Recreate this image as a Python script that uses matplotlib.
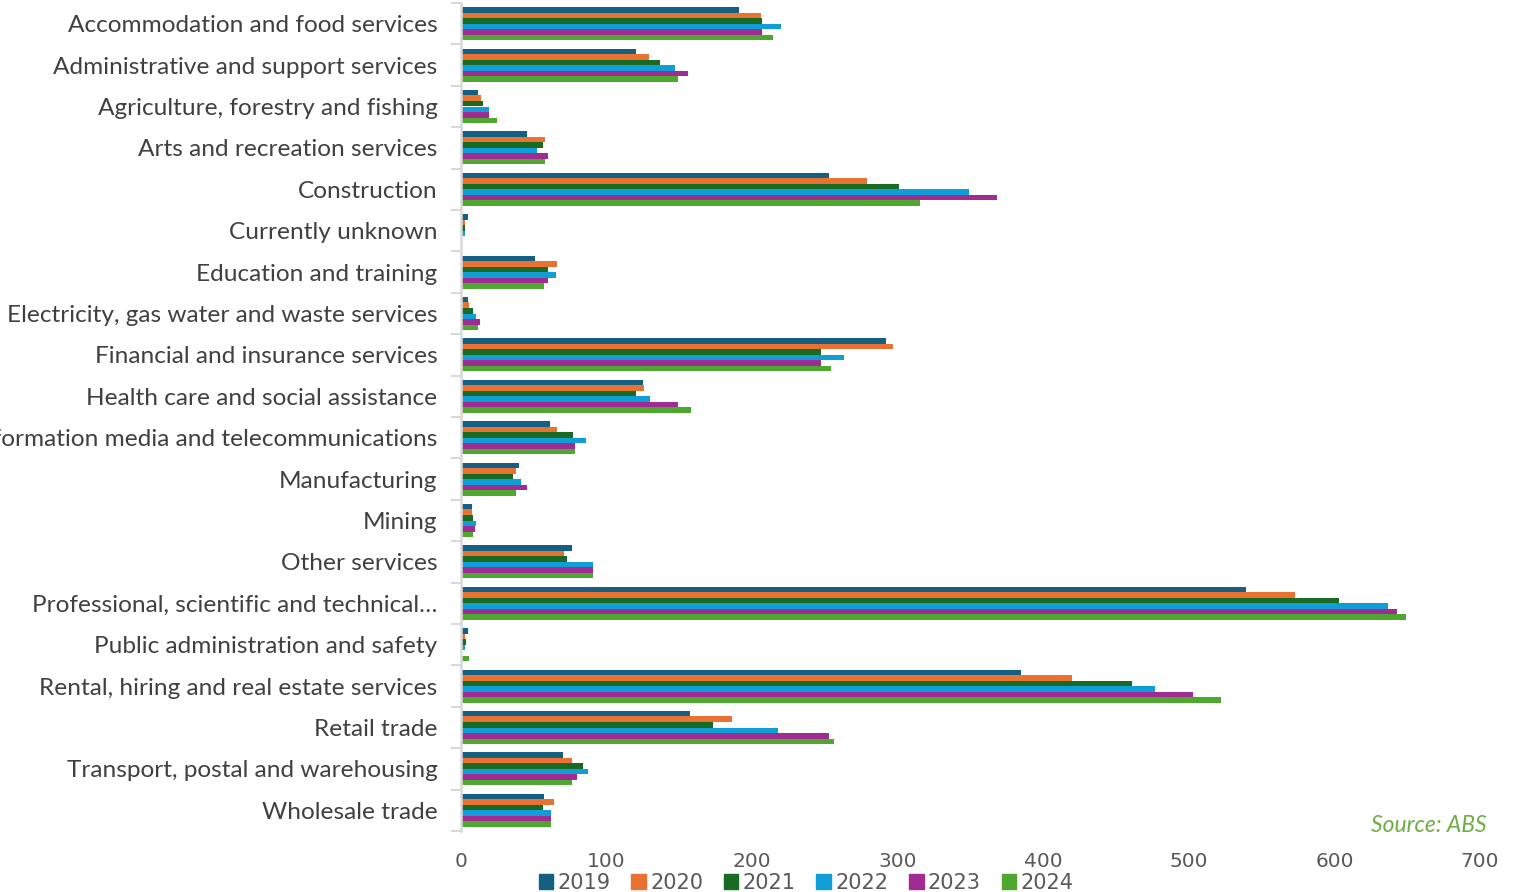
import numpy as np
import matplotlib as mlp
import matplotlib.pyplot as plt
from matplotlib.patches import Patch

mlp.rcParams['font.family'] = ['Lato', 'DejaVu Sans']

categories = ["Accommodation and food services", "Administrative and support services",
              "Agriculture, forestry and fishing", "Arts and recreation services",
              "Construction", "Currently unknown", "Education and training",
              "Electricity, gas water and waste services", "Financial and insurance services",
              "Health care and social assistance", "Information media and telecommunications",
              "Manufacturing", "Mining", "Other services",
              "Professional, scientific and technical\u2026", "Public administration and safety",
              "Rental, hiring and real estate services", "Retail trade",
              "Transport, postal and warehousing", "Wholesale trade"]
years = ["2019", "2020", "2021", "2022", "2023", "2024"]

v2019 = [191, 120, 12, 45, 253, 4.5, 51, 4.5, 292, 125, 61, 40, 7.5, 76, 539, 4.5, 385, 157, 70, 57]
v2020 = [206, 129, 13.5, 58, 279, 2.5, 66, 5.5, 297, 126, 66, 38, 7.5, 71, 573, 2.5, 420, 186, 76, 64]
v2021 = [207, 137, 15, 56, 301, 2.5, 60, 8, 247, 120, 77, 36, 8.5, 73, 603, 3.5, 461, 173, 84, 56]
v2022 = [220, 147, 19.5, 52, 349, 2.5, 65, 10.5, 263, 130, 86, 41, 10.5, 91, 637, 2.5, 477, 218, 87, 62]
v2023 = [207, 156, 19.5, 60, 368, 0, 60, 13, 247, 149, 78, 45, 9.5, 91, 643, 0, 503, 253, 80, 62]
v2024 = [214, 149, 25, 58, 315, 0, 57, 12, 254, 158, 78, 38, 8.5, 91, 649, 5.5, 522, 256, 76, 62]
series = [v2019, v2020, v2021, v2022, v2023, v2024]
colors = ['#156082', '#E97132', '#196B24', '#0F9ED5', '#A02B93', '#4EA72E']

fig = plt.figure(figsize=(15.15, 8.92), dpi=100)
ax = fig.add_axes([461/1515, 1 - 831/892, (1480 - 461)/1515, 828/892])

n = len(series)
ys = np.arange(len(categories))
bh = 0.8 / n
for i, vals in enumerate(series):
    ax.barh(ys - 0.4 + bh*(i + 0.5), vals, height=bh, color=colors[i], label=years[i])

ax.set_xlim(0, 700)
ax.set_ylim(len(categories) - 0.5, -0.5)
ax.set_xticks(np.arange(0, 701, 100))
ax.set_yticks(ys)
ax.set_yticklabels(categories, fontsize=17.6, color='#404040')
ax.set_yticks(np.arange(-0.5, len(categories), 1), minor=True)
ax.tick_params(axis='y', which='major', length=0, pad=17)
ax.tick_params(axis='y', which='minor', length=7, width=1.5, color='#d9d9d9')
ax.tick_params(axis='x', length=0, pad=15, labelsize=14.5, labelcolor='#595959')
for lab in ax.get_xticklabels():
    lab.set_family(['Liberation Sans Narrow', 'DejaVu Sans'])
for s in ['top', 'right', 'bottom']:
    ax.spines[s].set_visible(False)
ax.spines['left'].set_color('#d9d9d9')
ax.spines['left'].set_linewidth(1.8)

fig.text(1487/1515, 1 - 826/892, 'Source: ABS', color='#70AD47', fontsize=16.5,
         style='italic', ha='right', va='center')

handles = [Patch(color=c) for c in colors]
fig.legend(handles, years, loc='center', bbox_to_anchor=(806/1515, 1 - 883/892), ncol=6,
           frameon=False, handlelength=0.7, handleheight=0.7, handletextpad=0.2,
           columnspacing=1.0, borderpad=0.1,
           prop={'family': ['Liberation Sans Narrow', 'DejaVu Sans'], 'size': 15},
           labelcolor='#595959')

plt.savefig('out.png')
